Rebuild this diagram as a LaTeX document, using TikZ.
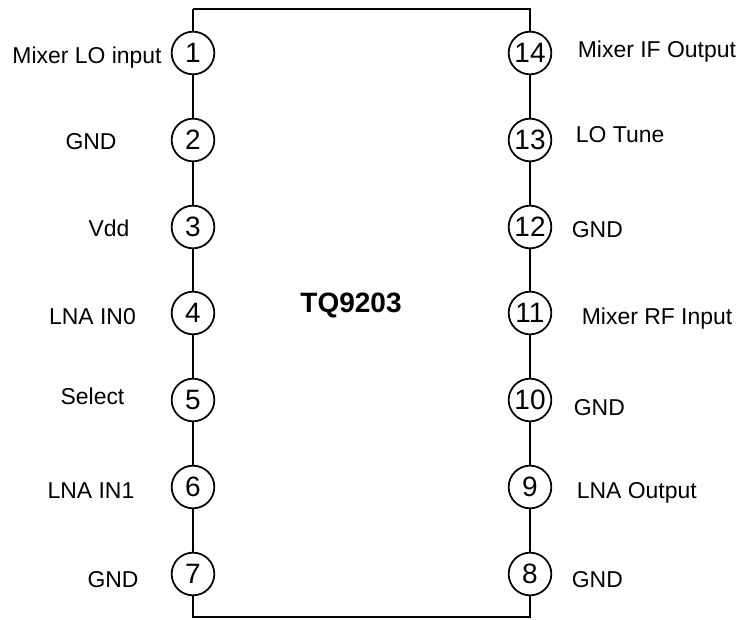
\documentclass[tikz,border=0pt]{standalone}
\usepackage{fontspec}
\setmainfont{Liberation Sans}
\usetikzlibrary{arrows}

\begin{document}
\begin{tikzpicture}[x=0.75pt,y=-0.75pt,line width=1.3pt,
  pin node/.style={circle,draw,fill=white,minimum size=32pt,inner sep=0pt,font=\fontsize{21}{21}\selectfont},
  left name/.style={anchor=base,inner sep=0pt,font=\fontsize{17.2}{17}\selectfont},
  right name/.style={anchor=base west,inner sep=0pt,font=\fontsize{17.2}{17}\selectfont}]
  \useasboundingbox (0,0) rectangle (739,620);

  % body corners
  \coordinate (tl) at (193,9);
  \coordinate (tr) at (530,9);
  \coordinate (bl) at (193,617);
  \coordinate (br) at (530,617);

  % pins
  \node[pin node] (1) at (193,53) {1};
  \node[pin node] (2) at (193,140) {2};
  \node[pin node] (3) at (193,227) {3};
  \node[pin node] (4) at (193,313) {4};
  \node[pin node] (5) at (193,400) {5};
  \node[pin node] (6) at (193,487) {6};
  \node[pin node] (7) at (193,574) {7};
  \node[pin node] (8) at (530,574) {8};
  \node[pin node] (9) at (530,487) {9};
  \node[pin node] (10) at (530,400) {10};
  \node[pin node] (11) at (530,313) {11};
  \node[pin node] (12) at (530,227) {12};
  \node[pin node] (13) at (530,140) {13};
  \node[pin node] (14) at (530,53) {14};

  \draw (tl) -- (1) -- (2) -- (3) -- (4) -- (5) -- (6) -- (7) -- (bl) -- (br)
        -- (8) -- (9) -- (10) -- (11) -- (12) -- (13) -- (14) -- (tr) -- (tl);

  \node[font=\fontsize{21}{21}\selectfont\bfseries] (chip) at (351,305) {TQ9203};

  % pin names
  \node[left name] (n1) at (87,64) {Mixer LO input};
  \node[left name] (n2) at (91,150) {GND};
  \node[left name] (n3) at (109,237) {Vdd};
  \node[left name] (n4) at (92.5,325) {LNA IN0};
  \node[left name] (n5) at (92.5,404) {Select};
  \node[left name] (n6) at (91,498) {LNA IN1};
  \node[left name] (n7) at (113,587) {GND};
  \node[right name] (n8) at (571,587) {GND};
  \node[right name] (n9) at (576,498) {LNA Output};
  \node[right name] (n10) at (573,415) {GND};
  \node[right name] (n11) at (581,325) {Mixer RF Input};
  \node[right name] (n12) at (571,238) {GND};
  \node[right name] (n13) at (575,143) {LO Tune};
  \node[right name] (n14) at (577,58) {Mixer IF Output};

\end{tikzpicture}
\end{document}
